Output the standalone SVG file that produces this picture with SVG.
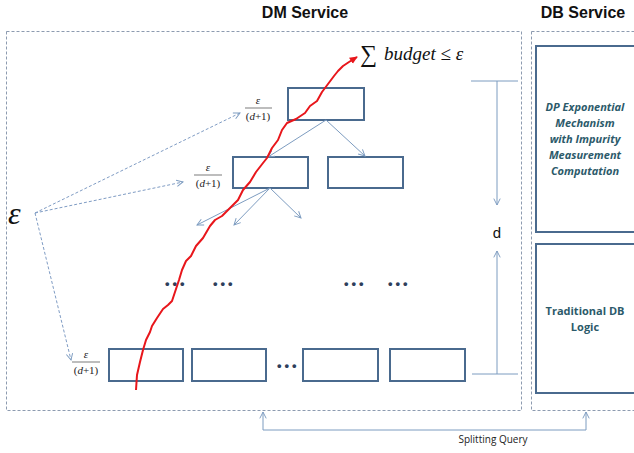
<svg xmlns="http://www.w3.org/2000/svg" width="634" height="453" viewBox="0 0 634 453">
<style>
.title{font-family:"Liberation Sans",Arial,sans-serif;font-weight:bold;font-size:16px;fill:#111;text-anchor:middle}
.node{fill:#fff;stroke:#4a6a8e;stroke-width:2}
.region{fill:none;stroke:#8d9bb0;stroke-width:1;stroke-dasharray:3,2}
.frac{font-family:"Liberation Serif","Times New Roman",serif;font-style:italic;font-size:11px;fill:#222;text-anchor:middle}
.fracd{font-family:"Liberation Serif","Times New Roman",serif;font-size:11px;fill:#222;text-anchor:middle}
.db{font-family:"Open Sans","Liberation Sans",sans-serif;font-weight:bold;font-size:11px;fill:#2c5a6a;text-anchor:middle}
.tree{stroke:#7d9cc0;stroke-width:1;fill:none;marker-end:url(#open)}
.dash{stroke:#7f9cc4;stroke-width:1;fill:none;stroke-dasharray:3,2;marker-end:url(#open)}
.dim{stroke:#7d9cc0;stroke-width:1;fill:none}
.dots{font-family:"Liberation Sans",Arial,sans-serif;font-weight:bold;font-size:13px;fill:#2e3f5c;letter-spacing:3px}
</style>
<defs>
<marker id="open" viewBox="0 0 10 10" refX="9" refY="5" markerWidth="8" markerHeight="8" orient="auto" markerUnits="userSpaceOnUse">
<path d="M1,1 L9,5 L1,9" fill="none" stroke="#7d9cc0" stroke-width="1.2"/>
</marker>
<marker id="red" viewBox="0 0 10 10" refX="8" refY="5" markerWidth="9" markerHeight="9" orient="auto" markerUnits="userSpaceOnUse">
<path d="M0,1 L9,5 L0,9 Z" fill="#e8161b"/>
</marker>
</defs>
<rect width="634" height="453" fill="#fff"/>

<g id="regions">
<rect class="region" x="6.5" y="31.5" width="515" height="379"/>
<rect class="region" x="531.5" y="31.5" width="110" height="379"/>
</g>
<g id="titles">
<text class="title" x="305" y="18">DM Service</text>
<text class="title" x="583" y="18">DB Service</text>
</g>

<g id="db-exp">
<rect class="node" x="536" y="46" width="104" height="186"/>
<text class="db" font-style="italic" x="585" y="111">DP Exponential</text>
<text class="db" font-style="italic" x="585" y="127">Mechanism</text>
<text class="db" font-style="italic" x="585" y="143">with Impurity</text>
<text class="db" font-style="italic" x="585" y="159">Measurement</text>
<text class="db" font-style="italic" x="585" y="175">Computation</text>
</g>
<g id="db-logic">
<rect class="node" x="536" y="244" width="104" height="149"/>
<text class="db" x="585" y="315">Traditional DB</text>
<text class="db" x="585" y="331">Logic</text>
</g>

<g id="n-root"><rect class="node" x="288" y="88" width="76" height="32"/></g>
<g id="n-l2a"><rect class="node" x="233" y="157" width="75" height="31"/></g>
<g id="n-l2b"><rect class="node" x="328" y="157" width="75" height="31"/></g>
<g id="n-leaf1"><rect class="node" x="109" y="349" width="74" height="32"/></g>
<g id="n-leaf2"><rect class="node" x="192" y="349" width="74" height="32"/></g>
<g id="n-leaf3"><rect class="node" x="303" y="349" width="75" height="32"/></g>
<g id="n-leaf4"><rect class="node" x="390" y="349" width="75" height="32"/></g>

<g id="ellipses">
<text class="dots" x="165" y="288">•••</text>
<text class="dots" x="213" y="288">•••</text>
<text class="dots" x="344" y="288">•••</text>
<text class="dots" x="388" y="288">•••</text>
<text class="dots" x="277" y="370">•••</text>
</g>

<g id="epsilon">
<text x="8" y="224" font-family="Liberation Serif,'Times New Roman',serif" font-style="italic" font-size="32" fill="#111">ε</text>
</g>
<g id="fractions">
<text class="frac" x="258" y="104">ε</text>
<line x1="245" y1="108" x2="272" y2="108" stroke="#444" stroke-width="0.7"/>
<text class="fracd" x="258" y="120">(<tspan font-style="italic">d</tspan>+1)</text>
<text class="frac" x="208" y="171">ε</text>
<line x1="194" y1="175" x2="222" y2="175" stroke="#444" stroke-width="0.7"/>
<text class="fracd" x="208" y="187">(<tspan font-style="italic">d</tspan>+1)</text>
<text class="frac" x="86" y="358">ε</text>
<line x1="72" y1="362" x2="100" y2="362" stroke="#444" stroke-width="0.7"/>
<text class="fracd" x="86" y="374">(<tspan font-style="italic">d</tspan>+1)</text>
</g>
<g id="budget">
<text x="360" y="62" font-family="Liberation Serif,'Times New Roman',serif" font-size="24" fill="#111">∑</text>
<text x="384" y="60" font-family="Liberation Serif,'Times New Roman',serif" font-style="italic" font-size="19" fill="#111">budget ≤ ε</text>
</g>
<g id="d-label">
<text x="497" y="238" font-family="Liberation Sans,Arial,sans-serif" font-size="15" fill="#111" text-anchor="middle">d</text>
</g>
<g id="splitting-label">
<text x="493" y="443" font-family="Open Sans,Liberation Sans,sans-serif" font-size="10" fill="#222" text-anchor="middle">Splitting Query</text>
</g>

<g id="connectors">
<path class="tree" d="M326,120 L268,157"/>
<path class="tree" d="M326,120 L365,156"/>
<path class="tree" d="M270,188 L197,225"/>
<path class="tree" d="M270,188 L234,225"/>
<path class="tree" d="M270,188 L301,218"/>
<path class="dash" d="M35,213 L240,113"/>
<path class="dash" d="M35,213 L183,182"/>
<path class="dash" d="M35,213 L71,360"/>
<path class="dim" d="M471,81 L518,81"/>
<path class="tree" d="M497,81 L497,205"/>
<path class="dim" d="M472,374 L518,374"/>
<path class="tree" d="M497,374 L497,251"/>
<path class="dim" d="M263,430 L586,430"/>
<path class="tree" d="M263,430 L263,412"/>
<path class="tree" d="M586,430 L586,412"/>
<path d="M136,390 L137,375 L140,362 L143,350 L146,340 L150,332 L152,326 L157,318 L163,309 L168,305 L172,301 L175,292 L179,280 L182,270 L186,261 L191,256 L196,246 L203,238 L210,226 L215,220 L222,216 L230,208 L238,200 L243,190 L250,182 L256,172 L263,163 L267,158 L272,148 L278,140 L282,130 L287,123 L296,119 L305,113 L310,106 L317,101 L322,92 L328,84 L334,76 L338,71 L343,66 L349,62 L357,57" fill="none" stroke="#e8161b" stroke-width="2" stroke-linejoin="round" marker-end="url(#red)"/>
</g>
</svg>
